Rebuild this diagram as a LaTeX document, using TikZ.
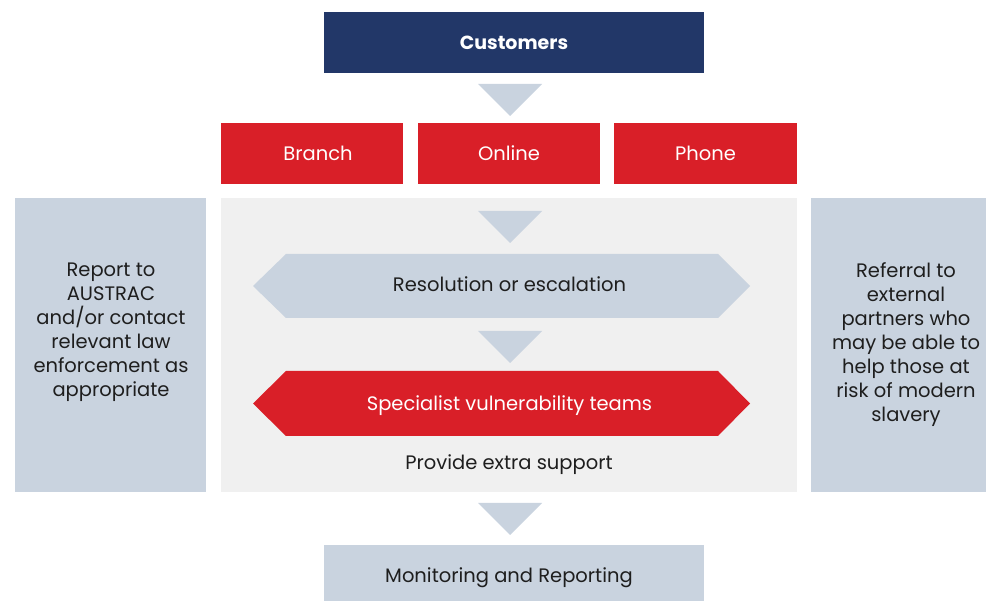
\documentclass[tikz,border=0pt]{standalone}
\usepackage{fontspec}
\setmainfont{Poppins}
\definecolor{navy}{RGB}{34,55,104}
\definecolor{cred}{RGB}{217,31,40}
\definecolor{blgray}{RGB}{201,211,223}
\definecolor{panel}{RGB}{240,240,240}
\definecolor{txt}{RGB}{30,30,30}
\tikzset{
  box/.style={inner sep=0pt, align=center, font=\fontsize{19.5}{24}\selectfont},
  redbox/.style={box, fill=cred, text=white},
  graybox/.style={box, fill=blgray, text=txt},
  tri/.style={fill=blgray},
  lbl/.style={inner sep=0pt, align=center, text=txt, font=\fontsize{19.5}{24}\selectfont},
}
\begin{document}
\begin{tikzpicture}[x=1pt,y=-1pt]
\useasboundingbox (0,0) rectangle (986,601);
% Customers
\node[box, fill=navy, text=white, minimum width=380pt, minimum height=61pt, font=\bfseries\fontsize{19}{24}\selectfont] (cust) at (514,42.5) {Customers};
% channels
\node[redbox, minimum width=182pt, minimum height=61pt] (branch) at (312,153.5) {\hspace*{12pt}Branch};
\node[redbox, minimum width=182pt, minimum height=61pt] (online) at (509,153.5) {Online};
\node[redbox, minimum width=183pt, minimum height=61pt] (phone) at (705.5,153.5) {Phone};
% side boxes and panel
\node[graybox, minimum width=191pt, minimum height=294pt] (left) at (110.5,345) {};
\node[lbl, anchor=north] (lefttxt) at (111,263) {Report to\\AUSTRAC\\and/or contact\\relevant law\\enforcement as\\appropriate};
\node[box, fill=panel, minimum width=576pt, minimum height=294pt] (panel) at (509,345) {};
\node[graybox, minimum width=175pt, minimum height=294pt] (right) at (898.5,345) {};
\node[lbl, anchor=north] (righttxt) at (906,262) {Referral to\\external\\partners who\\may be able to\\help those at\\risk of modern\\slavery};
% hexagons
\fill[blgray] (253,286) -- (286,254) -- (718,254) -- (750,286) -- (718,318) -- (286,318) -- cycle;
\node[lbl] (res) at (509.5,284) {Resolution or escalation};
\fill[cred] (253,403.5) -- (286,371) -- (718,371) -- (750,403.5) -- (718,436) -- (286,436) -- cycle;
\node[lbl, text=white] (spec) at (509.5,405.5) {Specialist vulnerability teams};
\node[lbl] (extra) at (509,465) {Provide extra support};
% monitoring
\node[graybox, minimum width=380pt, minimum height=56pt] (mon) at (514,573) {};
\node[lbl] (montxt) at (509,578) {Monitoring and Reporting};
% triangles
\fill[tri] (478,84) -- (542,84) -- (510,116) -- cycle;
\fill[tri] (478,211) -- (542,211) -- (510,243) -- cycle;
\fill[tri] (478,331) -- (542,331) -- (510,363) -- cycle;
\fill[tri] (478,503) -- (542,503) -- (510,535) -- cycle;
\end{tikzpicture}
\end{document}
